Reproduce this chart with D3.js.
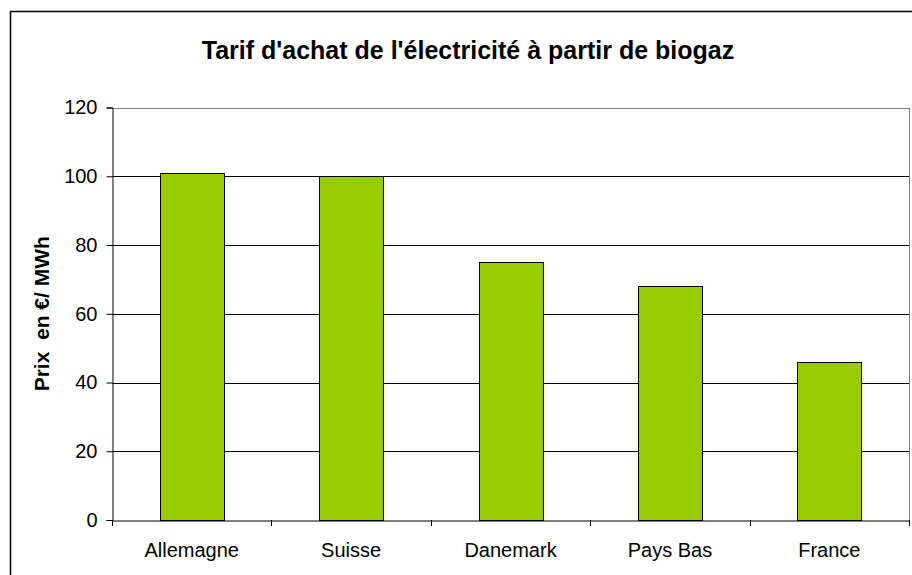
<!DOCTYPE html>
<html>
<head>
<meta charset="utf-8">
<script src="https://cdn.jsdelivr.net/npm/d3@7"></script>
<style>
  body { margin: 0; background: #fff; }
  svg { display: block; font-family: "Liberation Sans", Arial, sans-serif; }
</style>
</head>
<body>
<div id="chart"></div>
<script>
var countries = ["Allemagne", "Suisse", "Danemark", "Pays Bas", "France"];
var prices = [101, 100, 75, 68, 46];
var yTicks = [0, 20, 40, 60, 80, 100, 120];

var width = 912, height = 575;
var plotLeft = 112, plotRight = 909, plotTop = 107.5, plotBottom = 520;

var svg = d3.select("#chart")
    .append("svg")
    .attr("width", width)
    .attr("height", height);

// outer frame
svg.append("rect")
    .attr("x", 10.5)
    .attr("y", 11.5)
    .attr("width", 1000)
    .attr("height", 1000)
    .attr("fill", "none")
    .attr("stroke", "#000")
    .attr("stroke-width", 1.5);

var x = d3.scaleBand()
    .domain(countries)
    .range([plotLeft, plotRight])
    .paddingInner(0)
    .paddingOuter(0);

var y = d3.scaleLinear()
    .domain([0, 120])
    .range([plotBottom, plotTop]);

// gridlines
svg.selectAll("line.grid")
    .data(yTicks.filter(function(d) { return d > 0; }))
    .enter()
    .append("line")
    .attr("class", "grid")
    .attr("x1", plotLeft)
    .attr("x2", plotRight)
    .attr("y1", function(d) { return Math.round(y(d)) + 0.5; })
    .attr("y2", function(d) { return Math.round(y(d)) + 0.5; })
    .attr("stroke", function(d) { return d == 120 ? "#808080" : "#000"; })
    .attr("stroke-width", 1);

// right border of plot
svg.append("line")
    .attr("x1", plotRight + 0.5)
    .attr("x2", plotRight + 0.5)
    .attr("y1", plotTop)
    .attr("y2", plotBottom)
    .attr("stroke", "#808080");

// bars
var bw = x.bandwidth() * 0.4;
svg.selectAll("rect.bar")
    .data(prices)
    .enter()
    .append("rect")
    .attr("class", "bar")
    .attr("x", function(d, i) { return Math.round(x(countries[i]) + x.bandwidth() / 2 - bw / 2) + 0.5; })
    .attr("y", function(d) { return Math.round(y(d)) + 0.5; })
    .attr("width", Math.round(bw))
    .attr("height", function(d) { return Math.round(plotBottom - y(d)); })
    .attr("fill", "#99cc00")
    .attr("stroke", "#000")
    .attr("stroke-width", 1);

// y axis
var yAxis = d3.axisLeft(y)
    .tickValues(yTicks)
    .tickSize(6)
    .tickPadding(9);

var gy = svg.append("g")
    .attr("transform", "translate(" + (plotLeft + 0.5) + ",0)")
    .call(yAxis);
gy.select(".domain").attr("stroke", "#000");
gy.selectAll("text")
    .attr("font-size", 20)
    .attr("fill", "#000")
    .attr("font-family", "Liberation Sans, Arial, sans-serif");

// x axis
var xAxis = d3.axisBottom(x).tickSize(0);
var gx = svg.append("g")
    .attr("transform", "translate(0," + (plotBottom + 0.5) + ")")
    .call(xAxis);
gx.select(".domain").attr("stroke", "#000");
gx.selectAll("text")
    .attr("y", 36)
    .attr("dy", 0)
    .attr("font-size", 20)
    .attr("fill", "#000")
    .attr("font-family", "Liberation Sans, Arial, sans-serif");

// category boundary ticks
var bounds = countries.map(function(c) { return x(c); }).concat([plotRight]);
svg.selectAll("line.xtick")
    .data(bounds)
    .enter()
    .append("line")
    .attr("class", "xtick")
    .attr("x1", function(d) { return Math.round(d) + 0.5; })
    .attr("x2", function(d) { return Math.round(d) + 0.5; })
    .attr("y1", plotBottom)
    .attr("y2", plotBottom + 6)
    .attr("stroke", "#000");

// title
svg.append("text")
    .attr("x", 468)
    .attr("y", 59)
    .attr("text-anchor", "middle")
    .attr("font-size", 25)
    .attr("font-weight", "bold")
    .text("Tarif d'achat de l'électricité à partir de biogaz");

// y axis title
svg.append("text")
    .attr("transform", "translate(49," + ((plotTop + plotBottom) / 2) + ") rotate(-90)")
    .attr("text-anchor", "middle")
    .attr("font-size", 21)
    .attr("font-weight", "bold")
    .attr("xml:space", "preserve")
    .style("white-space", "pre")
    .text("Prix  en €/ MWh");
</script>
</body>
</html>
